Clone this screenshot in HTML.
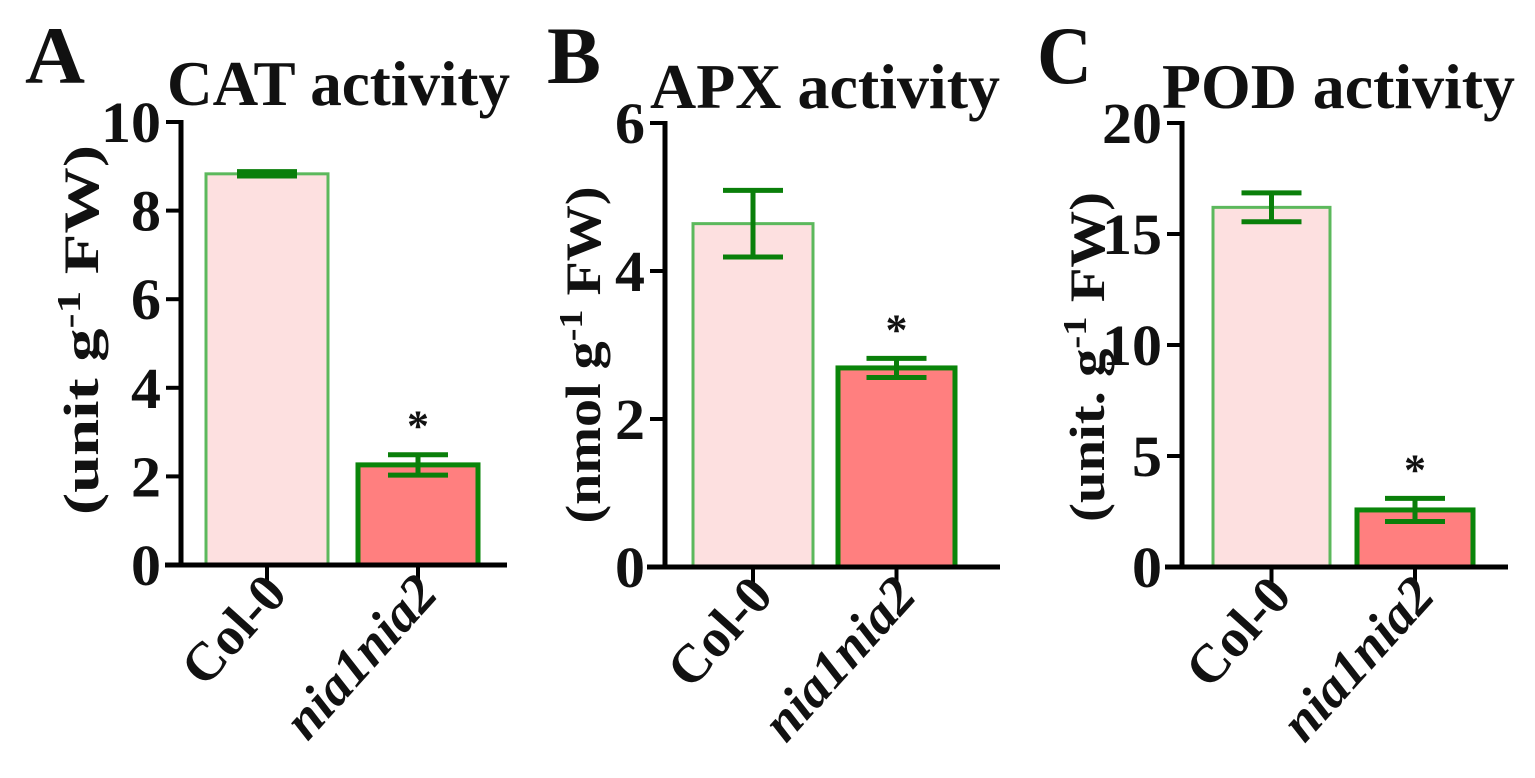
<!DOCTYPE html>
<html><head><meta charset="utf-8"><style>
html,body{margin:0;padding:0;background:#fff}
svg{display:block}
text{font-family:"Liberation Serif",serif;font-weight:bold;fill:#111}
</style></head><body>
<svg id="c" width="1535" height="778" viewBox="0 0 1535 778" xmlns="http://www.w3.org/2000/svg"></svg>
<script>
const categories = ["Col-0", "nia1nia2"];
const panelLetters = ["A", "B", "C"];
const panelTitles = ["CAT activity", "APX activity", "POD activity"];
const yLabels = ["(unit  g", "(nmol g", "(unit. g"];
const yMaxes = [10, 6, 20];
const yTicks = [[0,2,4,6,8,10],[0,2,4,6],[0,5,10,15,20]];
const meansCAT = [8.83, 2.26];
const errsCAT = [0.05, 0.23];
const meansAPX = [4.64, 2.69];
const errsAPX = [0.45, 0.13];
const meansPOD = [16.2, 2.57];
const errsPOD = [0.65, 0.52];
const sig = ["", "*"];

const NS = "http://www.w3.org/2000/svg";
const svg = document.getElementById("c");
function mk(tag, attrs, parent){const e=document.createElementNS(NS,tag);for(const k in attrs)e.setAttribute(k,attrs[k]);(parent||svg).appendChild(e);return e;}

const layouts = [
 {ax:181, top:122, bot:565, xl:165, xr:507, bars:[[206,328],[358,478]], letter:[25,83,60], title:[167,105,343], ylab:[98,330,370]},
 {ax:665, top:123, bot:567, xl:647, xr:1000, bars:[[693,813],[838,955]], letter:[547,83,54], title:[650,108,350], ylab:[600,355,337]},
 {ax:1182, top:123, bot:567, xl:1165, xr:1508, bars:[[1213,1330],[1357,1473]], letter:[1037,83,55], title:[1162,108,353], ylab:[1104,357,330]}
];
const means=[meansCAT,meansAPX,meansPOD], errs=[errsCAT,errsAPX,errsPOD];

layouts.forEach((L,p)=>{
  const g=mk("g",{});
  
  
  const y=v=>L.bot-(v/yMaxes[p])*(L.bot-L.top);
  let t=mk("text",{x:L.letter[0],y:L.letter[1],"font-size":82,textLength:L.letter[2],lengthAdjust:"spacingAndGlyphs"},g);t.textContent=panelLetters[p];
  
  t=mk("text",{x:L.title[0],y:L.title[1],"font-size":64,textLength:L.title[2],lengthAdjust:"spacingAndGlyphs"},g);t.textContent=panelTitles[p];
  
  // y label
  t=mk("text",{x:0,y:0,"font-size":50,"text-anchor":"middle",textLength:L.ylab[2],lengthAdjust:"spacingAndGlyphs",transform:`translate(${L.ylab[0]},${L.ylab[1]}) rotate(-90)`},g);
  t.innerHTML=yLabels[p]+'<tspan dy="-18" font-size="34">-1</tspan><tspan dy="18"> FW)</tspan>';
  
  // bars
  categories.forEach((c,i)=>{
    const [x0,x1]=L.bars[i]; const v=means[p][i], e=errs[p][i];
    const r=mk("rect",{x:x0,y:y(v),width:x1-x0,height:L.bot-y(v),fill:i?"#ff7f7f":"#fde0e0",stroke:i?"#0a850a":"#5cb85c","stroke-width":i?5:3},g);
    
    const cx=(x0+x1)/2;
    const eb=mk("path",{d:`M${cx-30},${y(v+e)}H${cx+30}M${cx},${y(v+e)}V${y(v-e)}M${cx-30},${y(v-e)}H${cx+30}`,stroke:"#0a7f0a","stroke-width":5,fill:"none"},g);
    
    if(sig[i]){const s=mk("text",{x:cx,y:y(v+e)-14,"font-size":44,"text-anchor":"middle"},g);s.textContent=sig[i];
      }
    const tk=mk("line",{x1:cx,x2:cx,y1:L.bot,y2:L.bot+16,stroke:"#000","stroke-width":4},g);
    
    const lb=mk("text",{x:0,y:0,"font-size":54,"text-anchor":"end",transform:`translate(${cx+22},${L.bot+30}) rotate(-48)`,"font-style":i?"italic":"normal"},g);
    lb.textContent=c;
    
  });
  // axes
  const ya=mk("line",{x1:L.ax,x2:L.ax,y1:L.top-2,y2:L.bot,stroke:"#000","stroke-width":5},g);
  
  const xa=mk("line",{x1:L.xl,x2:L.xr,y1:L.bot,y2:L.bot,stroke:"#000","stroke-width":5},g);
  
  yTicks[p].forEach(v=>{
    const tl=mk("line",{x1:L.ax-15,x2:L.ax,y1:y(v),y2:y(v),stroke:"#000","stroke-width":4},g);
    
    const s=String(v);
    const tx=mk("text",{x:L.ax-20,y:y(v)+20,"font-size":58,"text-anchor":"end",textLength:30*s.length,lengthAdjust:"spacingAndGlyphs"},g);tx.textContent=s;
    
  });
});
</script>
</body></html>
